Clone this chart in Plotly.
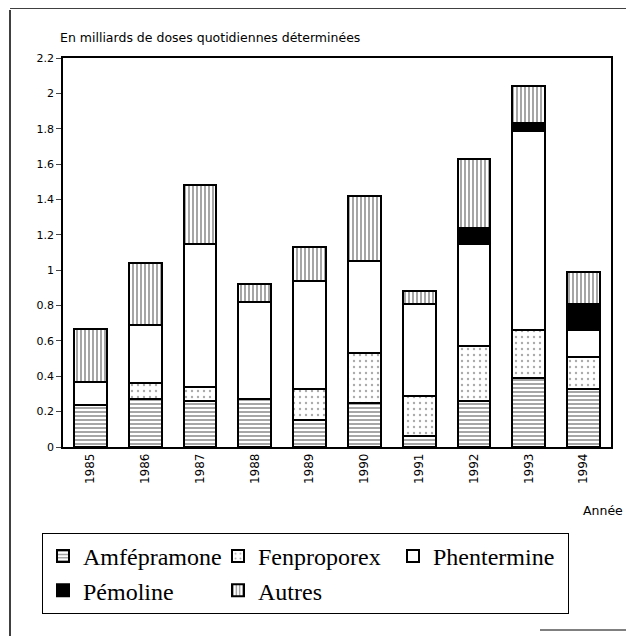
import plotly.graph_objects as go

years = ["1985", "1986", "1987", "1988", "1989", "1990", "1991", "1992", "1993", "1994"]
amfepramone = [0.24, 0.27, 0.26, 0.27, 0.15, 0.25, 0.06, 0.26, 0.39, 0.33]
fenproporex = [0.00, 0.09, 0.08, 0.00, 0.18, 0.28, 0.23, 0.31, 0.27, 0.18]
phentermine = [0.13, 0.33, 0.81, 0.55, 0.61, 0.52, 0.52, 0.58, 1.13, 0.15]
pemoline = [0.00, 0.00, 0.00, 0.00, 0.00, 0.00, 0.00, 0.09, 0.04, 0.15]
autres = [0.30, 0.35, 0.33, 0.10, 0.19, 0.37, 0.07, 0.39, 0.21, 0.18]

OFF = 8  # page body margin
W, H = 634 - OFF, 636 - OFF
# target page coordinates of plot area
PL, PR, PT, PB = 63, 611, 58, 447
ML, MT = PL - OFF, PT - OFF
MR = W - (PR - OFF)
MB = H - (PB - OFF)
PW, PH = PR - PL, PB - PT

def px(x):
    return (x - PL) / PW

def py(y):
    return (PB - y) / PH

sans = "DejaVu Sans"
serif = "Liberation Serif"

series = [
    ("Amfépramone", amfepramone, dict(shape="-", size=4, solidity=0.35, fgcolor="black", bgcolor="white")),
    ("Fenproporex", fenproporex, dict(shape=".", size=6, solidity=0.12, fgcolor="#555555", bgcolor="white")),
    ("Phentermine", phentermine, None),
    ("Pémoline", pemoline, None),
    ("Autres", autres, dict(shape="|", size=4, solidity=0.35, fgcolor="black", bgcolor="white")),
]
colors = {"Phentermine": "white", "Pémoline": "black"}

fig = go.Figure()
for name, vals, pat in series:
    marker = dict(line=dict(color="black", width=2))
    if pat:
        marker["pattern"] = pat
        marker["color"] = "white"
    else:
        marker["color"] = colors[name]
    fig.add_trace(go.Bar(x=years, y=vals, name=name, marker=marker, width=0.6))

fig.update_layout(
    width=W, height=H,
    margin=dict(l=ML, r=MR, t=MT, b=MB),
    barmode="stack",
    paper_bgcolor="white", plot_bgcolor="white",
    font=dict(family=sans, size=11, color="black"),
    showlegend=True,
    legend=dict(
        orientation="h",
        x=px(42), y=py(533), xanchor="left", yanchor="top",
        bordercolor="black", borderwidth=1,
        font=dict(family=serif, size=24, color="black"),
        entrywidth=130,
        traceorder="normal",
    ),
)
fig.update_xaxes(
    type="category", showline=True, linecolor="black", linewidth=1.5, mirror=True,
    tickangle=-90, ticks="", tickfont=dict(family=sans, size=12),
)
fig.update_yaxes(
    range=[0, 2.2], dtick=0.2, showgrid=False, zeroline=False,
    showline=True, linecolor="black", linewidth=1.5, mirror=True,
    ticks="outside", ticklen=5, tickfont=dict(family=sans, size=11),
)

fig.add_annotation(
    text="En milliards de doses quotidiennes déterminées",
    xref="paper", yref="paper", x=px(58), y=py(38),
    xanchor="left", yanchor="middle", showarrow=False,
    font=dict(family=sans, size=12.5),
)
fig.add_annotation(
    text="Année", xref="paper", yref="paper", x=px(625), y=py(510),
    xanchor="right", yanchor="middle", showarrow=False,
    font=dict(family=sans, size=12.5),
)

# outer frame lines
fig.add_shape(type="line", xref="paper", yref="paper",
              x0=px(10), x1=px(10), y0=py(10), y1=py(636),
              line=dict(color="black", width=1.5))
fig.add_shape(type="line", xref="paper", yref="paper",
              x0=px(10), x1=px(634), y0=py(8), y1=py(8),
              line=dict(color="black", width=1.5))
fig.add_shape(type="line", xref="paper", yref="paper",
              x0=px(540), x1=px(634), y0=py(630), y1=py(630),
              line=dict(color="black", width=1))

fig.write_html("out.html")
